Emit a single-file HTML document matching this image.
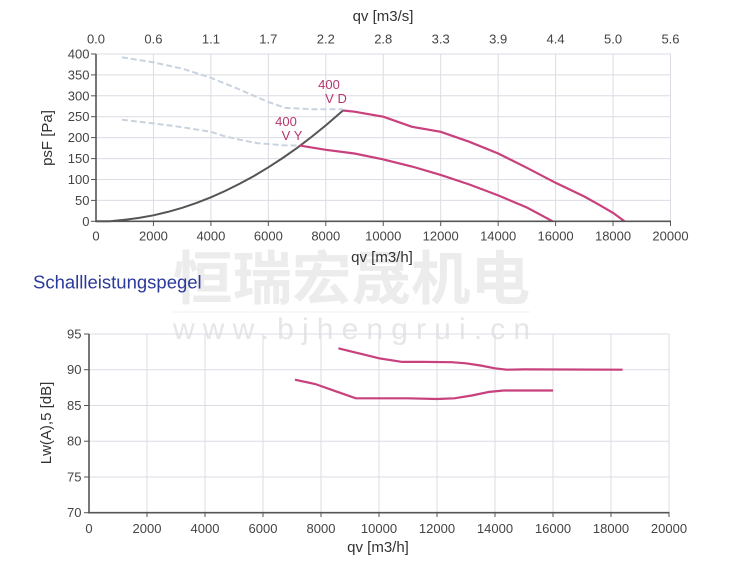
<!DOCTYPE html>
<html>
<head>
<meta charset="utf-8">
<style>
html,body{margin:0;padding:0;background:#fff;}
svg{display:block;}
text{font-family:"Liberation Sans",Arial,sans-serif;}
</style>
</head>
<body>
<svg width="750" height="565" viewBox="0 0 750 565" xmlns="http://www.w3.org/2000/svg">
<rect width="750" height="565" fill="#fff"/>

<!-- watermark -->
<text x="173" y="299" font-size="58" font-weight="bold" fill="#ececec" textLength="357" lengthAdjust="spacingAndGlyphs" style="font-family:'Liberation Sans','Noto Sans CJK SC',sans-serif">恒瑞宏晟机电</text>
<line x1="173" y1="312" x2="530" y2="312" stroke="#f2f2f2" stroke-width="1"/>
<text x="173" y="339" font-size="30" fill="#e6e6e6" textLength="357" lengthAdjust="spacing">www.bjhengrui.cn</text>

<!-- ============ TOP CHART ============ -->
<g stroke="#dcdce4" stroke-width="1">
  <line x1="153.45" y1="54" x2="153.45" y2="221.3"/>
  <line x1="210.9" y1="54" x2="210.9" y2="221.3"/>
  <line x1="268.35" y1="54" x2="268.35" y2="221.3"/>
  <line x1="325.8" y1="54" x2="325.8" y2="221.3"/>
  <line x1="383.25" y1="54" x2="383.25" y2="221.3"/>
  <line x1="440.7" y1="54" x2="440.7" y2="221.3"/>
  <line x1="498.15" y1="54" x2="498.15" y2="221.3"/>
  <line x1="555.6" y1="54" x2="555.6" y2="221.3"/>
  <line x1="613.05" y1="54" x2="613.05" y2="221.3"/>
  <line x1="670.5" y1="54" x2="670.5" y2="221.3"/>
  <line x1="96" y1="200.4" x2="670.5" y2="200.4"/>
  <line x1="96" y1="179.5" x2="670.5" y2="179.5"/>
  <line x1="96" y1="158.6" x2="670.5" y2="158.6"/>
  <line x1="96" y1="137.6" x2="670.5" y2="137.6"/>
  <line x1="96" y1="116.7" x2="670.5" y2="116.7"/>
  <line x1="96" y1="95.8" x2="670.5" y2="95.8"/>
  <line x1="96" y1="74.9" x2="670.5" y2="74.9"/>
  <line x1="96" y1="54" x2="670.5" y2="54"/>
</g>

<!-- dashed curves -->
<g fill="none" stroke="#c9d3df" stroke-width="2" stroke-dasharray="6 3">
  <polyline points="121.9,57.3 153.5,62.4 182.2,68.6 210.9,77.8 239.6,89.5 254,95.8 268.4,102.1 285.6,107.9 311.4,109.2 343,109.2"/>
  <polyline points="121.9,119.7 153.5,123.4 182.2,127.2 210.9,131.8 225.3,136.4 239.6,139.7 256.9,143.1 282.7,145.2 299.9,145.6"/>
</g>

<!-- system curve -->
<polyline fill="none" stroke="#555" stroke-width="2" points="96,221.3 110,221.2 124.7,219.8 139.1,217.9 153.5,215.3 167.8,211.9 182.2,207.8 196.5,202.9 210.9,197.3 225.3,190.9 239.6,183.8 254,175.97 268.4,167.3 282.7,158 297.1,147.9 311.4,137 325.8,125.4 343,110.5"/>

<!-- fan curves -->
<g fill="none" stroke="#c8407c" stroke-width="2.2">
  <polyline points="343,110.5 354.5,111.7 383.3,116.7 412,126.8 440.7,131.8 469.4,141.8 498.2,153.5 526.9,167.8 555.6,182.8 584.3,196.5 598.7,204.6 613.1,212.9 624.5,221.3"/>
  <polyline points="299.9,145.6 325.8,149.8 354.5,153.5 383.3,159.4 412,166.5 440.7,174.9 469.4,184.5 498.2,195.4 526.9,207.5 552.7,221.3"/>
</g>

<g fill="#b8356f" font-size="13" text-anchor="middle">
  <text x="329" y="89">400</text>
  <text x="336" y="103">V D</text>
  <text x="286" y="126">400</text>
  <text x="292" y="140">V Y</text>
</g>

<!-- axes -->
<g stroke="#555" stroke-width="1.6">
  <line x1="96" y1="54" x2="96" y2="222"/>
  <line x1="95.2" y1="221.3" x2="671" y2="221.3"/>
</g>
<g stroke="#555" stroke-width="1">
  <line x1="91" y1="54" x2="96" y2="54"/>
  <line x1="91" y1="74.9" x2="96" y2="74.9"/>
  <line x1="91" y1="95.8" x2="96" y2="95.8"/>
  <line x1="91" y1="116.7" x2="96" y2="116.7"/>
  <line x1="91" y1="137.6" x2="96" y2="137.6"/>
  <line x1="91" y1="158.6" x2="96" y2="158.6"/>
  <line x1="91" y1="179.5" x2="96" y2="179.5"/>
  <line x1="91" y1="200.4" x2="96" y2="200.4"/>
  <line x1="91" y1="221.3" x2="96" y2="221.3"/>
  <line x1="153.45" y1="221.3" x2="153.45" y2="226"/>
  <line x1="210.9" y1="221.3" x2="210.9" y2="226"/>
  <line x1="268.35" y1="221.3" x2="268.35" y2="226"/>
  <line x1="325.8" y1="221.3" x2="325.8" y2="226"/>
  <line x1="383.25" y1="221.3" x2="383.25" y2="226"/>
  <line x1="440.7" y1="221.3" x2="440.7" y2="226"/>
  <line x1="498.15" y1="221.3" x2="498.15" y2="226"/>
  <line x1="555.6" y1="221.3" x2="555.6" y2="226"/>
  <line x1="613.05" y1="221.3" x2="613.05" y2="226"/>
  <line x1="670.5" y1="221.3" x2="670.5" y2="226"/>
</g>

<g fill="#444" font-size="13" text-anchor="end">
  <text x="89.5" y="58.5">400</text>
  <text x="89.5" y="79.4">350</text>
  <text x="89.5" y="100.3">300</text>
  <text x="89.5" y="121.2">250</text>
  <text x="89.5" y="142.1">200</text>
  <text x="89.5" y="163.1">150</text>
  <text x="89.5" y="184">100</text>
  <text x="89.5" y="204.9">50</text>
  <text x="89.5" y="225.8">0</text>
</g>
<g fill="#444" font-size="13" text-anchor="middle">
  <text x="96" y="240.5">0</text>
  <text x="153.45" y="240.5">2000</text>
  <text x="210.9" y="240.5">4000</text>
  <text x="268.35" y="240.5">6000</text>
  <text x="325.8" y="240.5">8000</text>
  <text x="383.25" y="240.5">10000</text>
  <text x="440.7" y="240.5">12000</text>
  <text x="498.15" y="240.5">14000</text>
  <text x="555.6" y="240.5">16000</text>
  <text x="613.05" y="240.5">18000</text>
  <text x="670.5" y="240.5">20000</text>

  <text x="96" y="43.5">0.0</text>
  <text x="153.45" y="43.5">0.6</text>
  <text x="210.9" y="43.5">1.1</text>
  <text x="268.35" y="43.5">1.7</text>
  <text x="325.8" y="43.5">2.2</text>
  <text x="383.25" y="43.5">2.8</text>
  <text x="440.7" y="43.5">3.3</text>
  <text x="498.15" y="43.5">3.9</text>
  <text x="555.6" y="43.5">4.4</text>
  <text x="613.05" y="43.5">5.0</text>
  <text x="670.5" y="43.5">5.6</text>
</g>
<g fill="#333" font-size="15" text-anchor="middle">
  <text x="383" y="21">qv [m3/s]</text>
  <text x="382" y="262">qv [m3/h]</text>
  <text transform="translate(52,138) rotate(-90)">psF [Pa]</text>
</g>

<!-- heading -->
<text x="33" y="288.5" font-size="18.5" fill="#2b3a9a">Schallleistungspegel</text>

<!-- ============ BOTTOM CHART ============ -->
<g stroke="#dcdce4" stroke-width="1">
  <line x1="147" y1="334" x2="147" y2="512.7"/>
  <line x1="205" y1="334" x2="205" y2="512.7"/>
  <line x1="263" y1="334" x2="263" y2="512.7"/>
  <line x1="321" y1="334" x2="321" y2="512.7"/>
  <line x1="379" y1="334" x2="379" y2="512.7"/>
  <line x1="437" y1="334" x2="437" y2="512.7"/>
  <line x1="495" y1="334" x2="495" y2="512.7"/>
  <line x1="553" y1="334" x2="553" y2="512.7"/>
  <line x1="611" y1="334" x2="611" y2="512.7"/>
  <line x1="669" y1="334" x2="669" y2="512.7"/>
  <line x1="89" y1="334" x2="669" y2="334"/>
  <line x1="89" y1="369.7" x2="669" y2="369.7"/>
  <line x1="89" y1="405.5" x2="669" y2="405.5"/>
  <line x1="89" y1="441.2" x2="669" y2="441.2"/>
  <line x1="89" y1="477" x2="669" y2="477"/>
</g>

<g fill="none" stroke="#c8407c" stroke-width="2.2">
  <polyline points="338.4,348.3 350,351.2 364.5,354.7 379,358.3 402.2,361.9 422.5,361.9 451.5,362.2 466,363.3 480.5,365.5 495,368.3 506.6,369.7 524,369.4 622.6,369.7"/>
  <polyline points="294.9,379.7 315.2,384 335.5,391.2 355.8,398.3 379,398.3 408,398.3 437,399 454.4,398.3 471.8,395.5 489.2,391.9 503.7,390.5 553,390.5"/>
</g>

<g stroke="#555" stroke-width="1.6">
  <line x1="89" y1="334" x2="89" y2="513.5"/>
  <line x1="88.2" y1="512.7" x2="669.5" y2="512.7"/>
</g>
<g stroke="#555" stroke-width="1">
  <line x1="84" y1="334" x2="89" y2="334"/>
  <line x1="84" y1="369.7" x2="89" y2="369.7"/>
  <line x1="84" y1="405.5" x2="89" y2="405.5"/>
  <line x1="84" y1="441.2" x2="89" y2="441.2"/>
  <line x1="84" y1="477" x2="89" y2="477"/>
  <line x1="84" y1="512.7" x2="89" y2="512.7"/>
  <line x1="147" y1="512.7" x2="147" y2="517"/>
  <line x1="205" y1="512.7" x2="205" y2="517"/>
  <line x1="263" y1="512.7" x2="263" y2="517"/>
  <line x1="321" y1="512.7" x2="321" y2="517"/>
  <line x1="379" y1="512.7" x2="379" y2="517"/>
  <line x1="437" y1="512.7" x2="437" y2="517"/>
  <line x1="495" y1="512.7" x2="495" y2="517"/>
  <line x1="553" y1="512.7" x2="553" y2="517"/>
  <line x1="611" y1="512.7" x2="611" y2="517"/>
  <line x1="669" y1="512.7" x2="669" y2="517"/>
</g>

<g fill="#444" font-size="13" text-anchor="end">
  <text x="81.5" y="338.5">95</text>
  <text x="81.5" y="374.2">90</text>
  <text x="81.5" y="410">85</text>
  <text x="81.5" y="445.7">80</text>
  <text x="81.5" y="481.5">75</text>
  <text x="81.5" y="517.2">70</text>
</g>
<g fill="#444" font-size="13" text-anchor="middle">
  <text x="89" y="532.8">0</text>
  <text x="147" y="532.8">2000</text>
  <text x="205" y="532.8">4000</text>
  <text x="263" y="532.8">6000</text>
  <text x="321" y="532.8">8000</text>
  <text x="379" y="532.8">10000</text>
  <text x="437" y="532.8">12000</text>
  <text x="495" y="532.8">14000</text>
  <text x="553" y="532.8">16000</text>
  <text x="611" y="532.8">18000</text>
  <text x="669" y="532.8">20000</text>
</g>
<g fill="#333" font-size="15" text-anchor="middle">
  <text x="378" y="552">qv [m3/h]</text>
  <text transform="translate(51,423) rotate(-90)">Lw(A),5 [dB]</text>
</g>
</svg>
</body>
</html>
